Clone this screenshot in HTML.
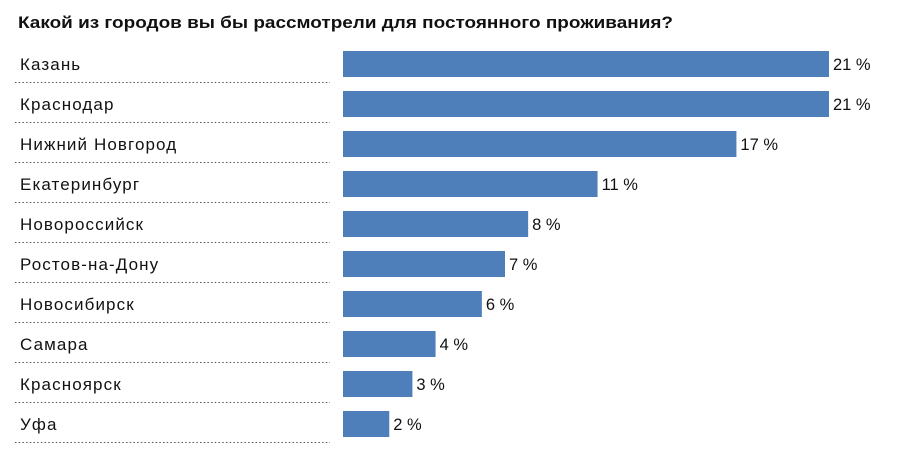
<!DOCTYPE html>
<html><head><meta charset="utf-8"><style>
body{margin:0;background:#fff;width:900px;height:456px;overflow:hidden;font-family:"Liberation Sans","DejaVu Sans",sans-serif}
</style></head><body>
<svg id="c" width="900" height="456">
<text x="18" y="28" font-size="17" font-weight="bold" fill="#111" textLength="655" lengthAdjust="spacingAndGlyphs">Какой из городов вы бы рассмотрели для постоянного проживания?</text>
</svg>
<script>
const categories=["Казань","Краснодар","Нижний Новгород","Екатеринбург","Новороссийск","Ростов-на-Дону","Новосибирск","Самара","Красноярск","Уфа"];
const values=[21,21,17,11,8,7,6,4,3,2];
const svg=document.getElementById('c');
const NS="http://www.w3.org/2000/svg";
const x=v=>343+v*(486/21);
const y=i=>51+i*40;
function mk(t,a){const e=document.createElementNS(NS,t);for(const k in a)e.setAttribute(k,a[k]);svg.appendChild(e);return e;}
categories.forEach((c,i)=>{
 const l=mk('text',{x:20,y:y(i)+19,'font-size':17,'letter-spacing':1.1,fill:'#111'});l.textContent=c;
 
 
 const d=mk('line',{x1:15,x2:330,y1:y(i)+31.5,y2:y(i)+31.5,stroke:'#555','stroke-width':1,'stroke-dasharray':'1.5,2.2'});
 
 
 const b=mk('rect',{x:x(0),y:y(i),width:x(values[i])-x(0),height:26,fill:'#4f7fbb'});
 
 
 const v=mk('text',{x:x(values[i])+4,y:y(i)+19,'font-size':16.5,fill:'#111'});v.textContent=values[i]+' %';
 
 
});
</script>
</body></html>
